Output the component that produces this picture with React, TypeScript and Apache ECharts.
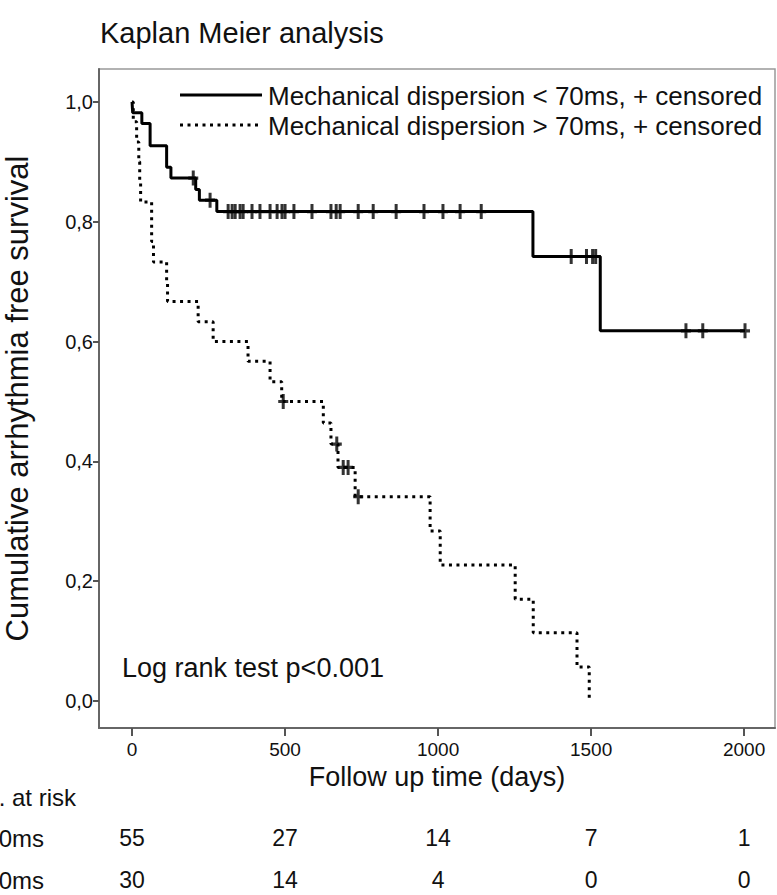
import React, { useEffect, useRef } from "react";
import * as echarts from "echarts";

// ---- data ----
const xTicks = [0, 500, 1000, 1500, 2000];
const yTicks = [0, 0.2, 0.4, 0.6, 0.8, 1.0];

// Mechanical dispersion < 70ms (solid)
const lowTimes = [0, 2, 32, 59, 113, 127, 208, 220, 277, 1310, 1530, 2003];
const lowSurv = [1.0, 0.982, 0.964, 0.927, 0.891, 0.873, 0.854, 0.836, 0.817, 0.742, 0.618, 0.618];
const lowCensTimes = [200, 255, 314, 327, 337, 353, 363, 392, 418, 451, 474, 490, 500, 529, 588, 650, 667, 680, 739, 788, 863, 954, 1016, 1072, 1141, 1435, 1485, 1505, 1515, 1810, 1865, 2003];
const lowCensSurv = [0.873, 0.836, 0.817, 0.817, 0.817, 0.817, 0.817, 0.817, 0.817, 0.817, 0.817, 0.817, 0.817, 0.817, 0.817, 0.817, 0.817, 0.817, 0.817, 0.817, 0.817, 0.817, 0.817, 0.817, 0.817, 0.742, 0.742, 0.742, 0.742, 0.618, 0.618, 0.618];

// Mechanical dispersion > 70ms (dotted)
const highTimes = [0, 4, 15, 22, 25, 28, 64, 70, 113, 116, 216, 265, 379, 451, 489, 625, 650, 673, 729, 974, 1007, 1252, 1311, 1454, 1494];
const highSurv = [1.0, 0.967, 0.933, 0.9, 0.867, 0.833, 0.767, 0.733, 0.7, 0.667, 0.633, 0.6, 0.567, 0.533, 0.5, 0.464, 0.429, 0.39, 0.341, 0.284, 0.227, 0.17, 0.114, 0.057, 0.0];
const highCensTimes = [494, 669, 690, 706, 739];
const highCensSurv = [0.5, 0.429, 0.39, 0.39, 0.341];

const atRiskLow = [55, 27, 14, 7, 1];
const atRiskHigh = [30, 14, 4, 0, 0];

const legendLow = "Mechanical dispersion < 70ms, + censored";
const legendHigh = "Mechanical dispersion > 70ms, + censored";

const FONT = "'Liberation Sans', Arial, sans-serif";
const PLUS = "path://M3.5,0 H6.5 V5.5 H10 V8.5 H6.5 V14 H3.5 V8.5 H0 V5.5 H3.5 Z";

export default function App() {
  const ref = useRef<HTMLDivElement>(null);
  useEffect(() => {
    document.body.style.margin = "0";
    const chart = echarts.init(ref.current!, null, { renderer: "svg" });
    const zip = (a: number[], b: number[]) => a.map((t, i) => [t, b[i]]);
    chart.setOption({
      animation: false,
      backgroundColor: "#fff",
      grid: { left: 99, right: 2, top: 69, bottom: 167, show: true, borderColor: "#999", borderWidth: 1.5,
        containLabel: false, outerBoundsMode: "none" },
      xAxis: {
        type: "value", min: -108, max: 2101,
        name: "Follow up time (days)", nameLocation: "middle", nameGap: 21,
        nameTextStyle: { fontFamily: FONT, fontSize: 27, color: "#111" },
        splitLine: { show: false },
        axisLine: { show: true, onZero: false, lineStyle: { color: "#666", width: 2 } },
        axisTick: { show: true, customValues: xTicks, length: 8, lineStyle: { color: "#555", width: 2 } },
        axisLabel: { customValues: xTicks, fontFamily: FONT, fontSize: 19, color: "#111", margin: 12,
          formatter: (v: number) => String(v) },
      },
      yAxis: {
        type: "value", min: -0.045, max: 1.055,
        name: "Cumulative arrhythmia free survival", nameLocation: "middle", nameGap: 66, nameRotate: 90,
        nameTextStyle: { fontFamily: FONT, fontSize: 31, color: "#111" },
        splitLine: { show: false },
        axisLine: { show: true, onZero: false, lineStyle: { color: "#666", width: 2 } },
        axisTick: { show: true, customValues: yTicks, length: 6, lineStyle: { color: "#555", width: 2 } },
        axisLabel: {
          customValues: yTicks, fontFamily: FONT, fontSize: 20, color: "#111", margin: 6,
          formatter: (v: number) => v.toFixed(1).replace(".", ","),
        },
      },
      series: [
        { type: "line", name: legendLow, step: "end", data: zip(lowTimes, lowSurv), symbol: "none",
          lineStyle: { color: "#000", width: 3 } },
        { type: "line", name: legendHigh, step: "end", data: zip(highTimes, highSurv), symbol: "none",
          lineStyle: { color: "#000", width: 3, type: [3, 4.5] } },
        { type: "scatter", data: zip(lowCensTimes, lowCensSurv), symbol: PLUS, symbolSize: [10, 15],
          itemStyle: { color: "#000" } },
        { type: "scatter", data: zip(highCensTimes, highCensSurv), symbol: PLUS, symbolSize: [10, 15],
          itemStyle: { color: "#000" } },
      ],
    });
    const px = (t: number) => chart.convertToPixel({ xAxisIndex: 0 }, t) as number;
    const g: any[] = [
      { type: "text", left: 100, top: 18, style: { text: "Kaplan Meier analysis", font: `29px ${FONT}`, fill: "#111" } },
      { type: "line", shape: { x1: 180, y1: 95, x2: 262, y2: 95 }, style: { stroke: "#000", lineWidth: 3 } },
      { type: "line", shape: { x1: 180, y1: 125, x2: 262, y2: 125 }, style: { stroke: "#000", lineWidth: 3, lineDash: [3, 4.5] } },
      { type: "text", x: 268, y: 96, style: { text: legendLow, font: `26px ${FONT}`, fill: "#111", verticalAlign: "middle" } },
      { type: "text", x: 268, y: 126, style: { text: legendHigh, font: `26px ${FONT}`, fill: "#111", verticalAlign: "middle" } },
      { type: "text", x: 122, y: 668, style: { text: "Log rank test p<0.001", font: `27px ${FONT}`, fill: "#111", verticalAlign: "middle" } },
      { type: "text", x: 76, y: 797, style: { text: "No. at risk", font: `24px ${FONT}`, fill: "#111", align: "right", verticalAlign: "middle" } },
      { type: "text", x: 44, y: 838, style: { text: "MD < 70ms", font: `24px ${FONT}`, fill: "#111", align: "right", verticalAlign: "middle" } },
      { type: "text", x: 44, y: 880, style: { text: "MD > 70ms", font: `24px ${FONT}`, fill: "#111", align: "right", verticalAlign: "middle" } },
    ];
    xTicks.forEach((t, i) => {
      g.push({ type: "text", x: px(t), y: 838, style: { text: String(atRiskLow[i]), font: `23px ${FONT}`, fill: "#111", align: "center", verticalAlign: "middle" } });
      g.push({ type: "text", x: px(t), y: 880, style: { text: String(atRiskHigh[i]), font: `23px ${FONT}`, fill: "#111", align: "center", verticalAlign: "middle" } });
    });
    chart.setOption({ graphic: g });
    return () => chart.dispose();
  }, []);
  return <div ref={ref} style={{ width: 777, height: 895 }} />;
}
